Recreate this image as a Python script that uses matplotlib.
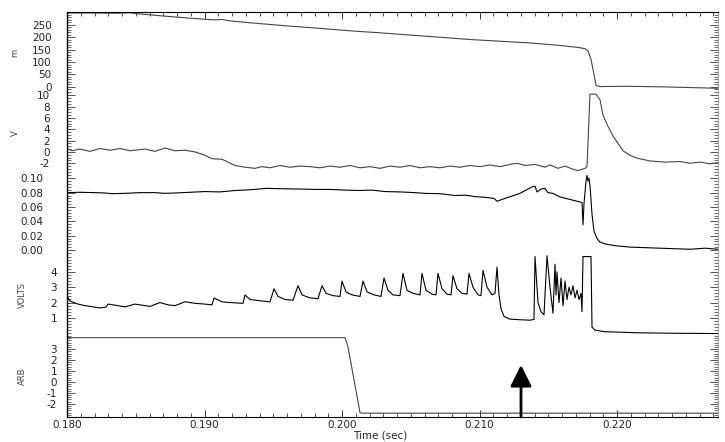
import numpy as np
import matplotlib
matplotlib.use('Agg')
import matplotlib.pyplot as plt
from matplotlib.ticker import FixedLocator, MultipleLocator, FormatStrFormatter

# ---------------- data (times in ms) ----------------
t_m = [180.000, 181.673, 183.491, 184.582, 184.945, 186.764, 188.945, 190.764, 191.273, 191.855,
       194.036, 196.218, 198.400, 200.582, 202.764, 204.945, 207.127, 209.309, 211.491, 213.673,
       215.855, 217.164, 217.673, 217.891, 218.109, 218.327, 218.473, 218.764, 220.945, 223.127,
       225.309, 227.345]
m_vals = [298, 298, 297, 299, 296, 287, 277, 270, 272, 266,
          255, 245, 236, 226, 218, 209, 200, 191, 184, 177,
          167, 159, 154, 145, 110, 50, 5, 1, 2, 0,
          -3, -6]

t_v = [180.000, 180.364, 180.945, 181.673, 182.400, 183.127, 183.855, 184.582, 185.673, 186.400,
       187.127, 187.855, 188.582, 189.309, 190.036, 190.545, 191.273, 191.709, 192.218, 192.945,
       193.673, 194.182, 194.764, 195.491, 196.218, 196.945, 197.673, 198.400, 199.127, 199.855,
       200.582, 201.309, 202.036, 202.764, 203.491, 204.218, 204.945, 205.673, 206.400, 207.127,
       207.855, 208.582, 209.309, 210.036, 210.764, 211.491, 212.218, 212.727, 213.309, 214.036,
       214.764, 215.127, 215.709, 216.218, 216.727, 217.164, 217.673, 217.818, 218.036, 218.473,
       218.764, 218.982, 219.345, 219.709, 220.073, 220.436, 220.945, 221.455, 222.400, 223.491,
       224.582, 225.309, 226.036, 226.764, 227.345]
v_vals = [0.6, 0.2, 0.5, 0.1, 0.6, 0.3, 0.6, 0.2, 0.5, 0.1,
          0.7, 0.2, 0.3, 0.0, -0.6, -1.2, -1.3, -1.8, -2.4, -2.7,
          -2.9, -2.6, -2.8, -2.4, -2.7, -2.5, -2.6, -2.8, -2.5, -2.7,
          -2.4, -2.8, -2.6, -2.9, -2.5, -2.7, -2.4, -2.8, -2.6, -2.8,
          -2.5, -2.7, -2.4, -2.6, -2.3, -2.6, -2.2, -2.0, -2.4, -2.2,
          -2.7, -2.3, -2.9, -2.5, -3.0, -3.3, -2.9, -2.6, 10.2, 10.2,
          9.2, 6.5, 4.5, 2.8, 1.5, 0.2, -0.6, -1.1, -1.6, -1.8,
          -1.7, -2.0, -1.8, -2.1, -1.9]

t_c = [180.000, 180.945, 182.036, 182.764, 183.273, 184.218, 185.309, 186.400, 187.127, 187.855,
       188.945, 190.036, 191.127, 192.218, 193.309, 194.545, 195.491, 196.945, 198.036, 199.127,
       200.218, 201.309, 202.182, 203.127, 204.218, 205.309, 206.036, 207.127, 208.218, 208.945,
       209.673, 210.400, 211.055, 211.273, 211.855, 212.945, 213.818, 214.036, 214.182, 214.473,
       214.764, 214.982, 215.345, 215.855, 216.582, 217.309, 217.455, 217.527, 217.600, 217.745,
       217.818, 217.891, 217.964, 218.036, 218.182, 218.327, 218.545, 218.764, 219.127, 219.855,
       220.945, 222.400, 223.855, 225.309, 226.400, 227.345]
c_vals = [0.0800, 0.0805, 0.0800, 0.0795, 0.0785, 0.0790, 0.0800, 0.0800, 0.0790, 0.0795,
          0.0805, 0.0815, 0.0810, 0.0830, 0.0840, 0.0860, 0.0855, 0.0850, 0.0845, 0.0845,
          0.0835, 0.0830, 0.0835, 0.0815, 0.0810, 0.0800, 0.0790, 0.0785, 0.0760, 0.0765,
          0.0745, 0.0735, 0.0720, 0.0680, 0.0720, 0.0790, 0.0880, 0.0890, 0.0810, 0.0850,
          0.0860, 0.0800, 0.0790, 0.0740, 0.0705, 0.0670, 0.0660, 0.0350, 0.0650, 0.0960,
          0.1040, 0.0960, 0.1000, 0.0900, 0.0500, 0.0260, 0.0160, 0.0110, 0.0085, 0.0060,
          0.0040, 0.0030, 0.0020, 0.0010, 0.0025, 0.0010]

t_volts = [180.000, 180.218, 180.800, 181.309, 182.400, 182.836, 182.982, 183.709, 184.218, 184.945,
           185.673, 186.036, 186.764, 187.345, 187.855, 188.582, 189.309, 190.036, 190.545, 190.691,
           191.273, 191.855, 192.800, 192.945, 193.309, 194.182, 194.764, 195.055, 195.345, 195.855,
           196.436, 196.800, 197.091, 197.673, 198.255, 198.545, 198.836, 199.345, 199.855, 200.000,
           200.291, 200.727, 201.309, 201.527, 201.818, 202.327, 202.836, 203.055, 203.345, 203.709,
           204.218, 204.436, 204.727, 205.164, 205.673, 205.818, 206.109, 206.545, 206.836, 206.982,
           207.273, 207.636, 207.927, 208.073, 208.364, 208.727, 209.091, 209.236, 209.527, 209.891,
           210.109, 210.255, 210.545, 210.909, 211.127, 211.273, 211.418, 211.564, 211.782, 212.218,
           212.945, 213.673, 213.964, 214.036, 214.255, 214.473, 214.691, 214.909, 215.127, 215.345,
           215.491, 215.564, 215.636, 215.782, 215.927, 216.073, 216.218, 216.364, 216.509, 216.655,
           216.800, 216.945, 217.091, 217.236, 217.382, 217.455, 217.527, 218.109, 218.182, 218.400,
           219.127, 221.527, 224.000, 227.345]
volts_vals = [2.4, 2.1, 1.9, 1.8, 1.65, 1.7, 1.9, 1.8, 1.72, 1.9,
              1.8, 1.75, 2.0, 1.85, 1.8, 2.05, 1.95, 1.9, 1.85, 2.3,
              2.05, 2.0, 1.95, 2.5, 2.2, 2.1, 2.05, 2.9, 2.4, 2.2,
              2.15, 3.1, 2.5, 2.3, 2.25, 3.1, 2.6, 2.45, 2.4, 3.4,
              2.7, 2.5, 2.4, 3.4, 2.7, 2.5, 2.4, 3.6, 2.8, 2.5,
              2.45, 3.9, 2.8, 2.6, 2.5, 3.9, 2.8, 2.55, 2.5, 3.9,
              2.9, 2.55, 2.5, 3.75, 2.9, 2.6, 2.55, 3.9, 3.0, 2.5,
              2.45, 4.1, 3.0, 2.5, 2.6, 4.3, 2.5, 1.6, 1.1, 0.92,
              0.88, 0.85, 0.9, 5.0, 2.0, 1.4, 1.2, 5.05, 3.0, 1.3,
              4.5, 2.5, 4.0, 2.0, 3.6, 1.8, 3.4, 2.2, 3.0, 2.5,
              3.1, 2.3, 2.8, 2.2, 2.6, 1.4, 5.0, 5.0, 0.4, 0.2,
              0.1, 0.03, 0.0, -0.02]

t_arb = [180.000, 200.218, 200.436, 201.309, 201.455, 227.345]
arb_vals = [4.05, 4.05, 3.2, -2.8, -2.85, -2.85]

arrow_time = 213.018   # ms
arrow_tip = 1.55

# ---------------- figure ----------------
W, H = 725, 442
fig = plt.figure(figsize=(W / 100, H / 100), dpi=100)
left, right = 67, 718
bounds = [12, 93, 174, 255, 336, 417]
FS = 7.5

panels = [
    dict(t=t_m, y=m_vals, ylim=(-25, 302), major=[0, 50, 100, 150, 200, 250], minor=10,
         fmt='%d', pad=11, color='#444444', label='m', lx=15),
    dict(t=t_v, y=v_vals, ylim=(-3.9, 10.4), major=[-2, 0, 2, 4, 6, 8, 10], minor=0.5,
         fmt='%d', pad=12, color='#444444', label='V', lx=15),
    dict(t=t_c, y=c_vals, ylim=(-0.007, 0.106), major=[0.0, 0.02, 0.04, 0.06, 0.08, 0.10], minor=0.004,
         fmt='%.2f', pad=17, color='black', label='', lx=15),
    dict(t=t_volts, y=volts_vals, ylim=(-0.18, 5.1), major=[1, 2, 3, 4], minor=0.2,
         fmt='%d', pad=7, color='black', label='VOLTS', lx=22),
    dict(t=t_arb, y=arb_vals, ylim=(-3.2, 4.2), major=[-2, -1, 0, 1, 2, 3], minor=0.2,
         fmt='%d', pad=7, color='#444444', label='ARB', lx=22),
]

axes = []
for i, p in enumerate(panels):
    top, bot = bounds[i], bounds[i + 1]
    ax = fig.add_axes([left / W, 1 - bot / H, (right - left) / W, (bot - top) / H])
    axes.append(ax)
    ax.plot(np.asarray(p['t']) / 1000.0, p['y'], color=p['color'], lw=0.8)
    ax.set_xlim(0.180, 0.227345)
    ax.set_ylim(*p['ylim'])
    ax.yaxis.set_major_locator(FixedLocator(p['major']))
    ax.yaxis.set_minor_locator(MultipleLocator(p['minor']))
    ax.yaxis.set_major_formatter(FormatStrFormatter(p['fmt']))
    ax.tick_params(axis='y', which='both', direction='in', left=True, right=True,
                   labelsize=FS, labelcolor='#222222', color='#555555', pad=p['pad'])
    ax.tick_params(axis='y', which='major', length=6, width=0.7)
    ax.tick_params(axis='y', which='minor', length=3, width=0.6)
    ax.xaxis.set_major_locator(MultipleLocator(0.010))
    ax.xaxis.set_minor_locator(MultipleLocator(0.001))
    ax.xaxis.set_major_formatter(FormatStrFormatter('%.3f'))
    ax.spines['left'].set_linewidth(1.0)
    ax.spines['right'].set_color('#999999')
    ax.spines['right'].set_linewidth(0.6)
    ax.spines['top'].set_visible(i == 0)
    ax.spines['bottom'].set_visible(i == len(panels) - 1)
    ax.tick_params(axis='x', which='both', direction='in', color='#333333',
                   top=(i == 0), bottom=(i == len(panels) - 1),
                   labelbottom=(i == len(panels) - 1), labeltop=False,
                   labelsize=FS, labelcolor='#222222', pad=2)
    ax.tick_params(axis='x', which='major', length=5, width=0.7)
    ax.tick_params(axis='x', which='minor', length=3, width=0.6)
    ax.patch.set_alpha(0)
    if p['label']:
        cy = 1 - (top + bot) / 2 / H
        fig.text(p['lx'] / W, cy, p['label'], rotation=90, ha='center', va='center',
                 fontsize=6, color='#444444',
                 family=['Liberation Sans Narrow', 'DejaVu Sans'])

fig.text((left + 313) / W, 1 - 436 / H, 'Time (sec)', ha='center', va='center',
         fontsize=FS, color='#222222')

axes[-1].annotate('', xy=(arrow_time / 1000.0, arrow_tip),
                  xytext=(arrow_time / 1000.0, -3.2),
                  arrowprops=dict(arrowstyle='-|>,head_length=1.3,head_width=0.65',
                                  mutation_scale=10, lw=2, color='black',
                                  shrinkA=0, shrinkB=0),
                  annotation_clip=False)

fig.savefig('out.png', dpi=100)
